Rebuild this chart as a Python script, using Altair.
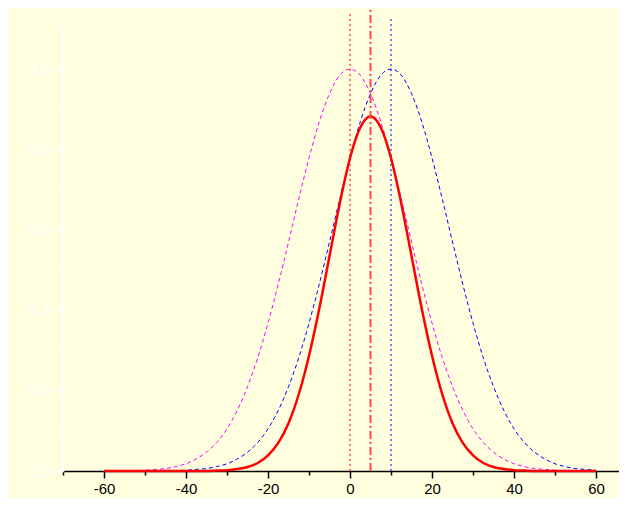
import altair as alt
import pandas as pd

# x positions (step 2.5)
x_vals = [i * 2.5 for i in range(-24, 25)]

# magenta dashed curve (centered at 0)
magenta = [0.000, 0.000, 0.001, 0.001, 0.002, 0.004, 0.006, 0.011, 0.018, 0.030,
           0.047, 0.071, 0.105, 0.151, 0.210, 0.282, 0.368, 0.465, 0.570, 0.677,
           0.779, 0.869, 0.939, 0.985, 1.000, 0.985, 0.939, 0.869, 0.779, 0.677,
           0.570, 0.465, 0.368, 0.282, 0.210, 0.151, 0.105, 0.071, 0.047, 0.030,
           0.018, 0.011, 0.006, 0.004, 0.002, 0.001, 0.001, 0.000, 0.000]

# blue dashed curve (centered at 10)
blue = [0.000, 0.000, 0.000, 0.000, 0.000, 0.000, 0.001, 0.001, 0.002, 0.004,
        0.006, 0.011, 0.018, 0.030, 0.047, 0.071, 0.105, 0.151, 0.210, 0.282,
        0.368, 0.465, 0.570, 0.677, 0.779, 0.869, 0.939, 0.985, 1.000, 0.985,
        0.939, 0.869, 0.779, 0.677, 0.570, 0.465, 0.368, 0.282, 0.210, 0.151,
        0.105, 0.071, 0.047, 0.030, 0.018, 0.011, 0.006, 0.004, 0.002]

# red solid curve (centered at 5)
red = [0.000, 0.000, 0.000, 0.000, 0.000, 0.000, 0.000, 0.000, 0.000, 0.000,
       0.000, 0.001, 0.002, 0.005, 0.010, 0.020, 0.039, 0.070, 0.119, 0.191,
       0.287, 0.404, 0.535, 0.666, 0.779, 0.855, 0.883, 0.855, 0.779, 0.666,
       0.535, 0.404, 0.287, 0.191, 0.119, 0.070, 0.039, 0.020, 0.010, 0.005,
       0.002, 0.001, 0.000, 0.000, 0.000, 0.000, 0.000, 0.000, 0.000]

# vertical reference lines
vline_x = [0, 5, 10]
vline_top = [1.14, 1.16, 1.13]

x_ticks = [-70, -60, -50, -40, -30, -20, -10, 0, 10, 20, 30, 40, 50, 60]
y_ticks = [0.0, 0.1, 0.2, 0.3, 0.4, 0.5, 0.6, 0.7, 0.8, 0.9, 1.0, 1.1]

df = pd.DataFrame({"x": x_vals, "magenta": magenta, "blue": blue, "red": red})
vdf = pd.DataFrame({"x": vline_x, "y0": [0, 0, 0], "top": vline_top})

FONT = "Arial"

xscale = alt.Scale(domain=[-70, 65.6], nice=False, zero=False)
yscale = alt.Scale(domain=[0, 1.1], nice=False)

xaxis = alt.Axis(
    values=x_ticks, title=None, grid=False,
    domainColor="black", domainWidth=1.5, tickColor="black", tickWidth=1.5,
    tickSize={"condition": {"test": "datum.value % 20 === 0", "value": 7}, "value": 4},
    labelExpr="datum.value % 20 === 0 ? toString(datum.value) : ''",
    labelColor="black", labelFont=FONT, labelFontSize=15, labelPadding=3,
    labelFlush=False, labelOverlap=False,
)
yaxis = alt.Axis(
    values=y_ticks, title=None, grid=False,
    domainColor="white", domainWidth=2, tickColor="white", tickWidth=2,
    tickSize={"condition": {"test": "round(datum.value*10) % 2 === 0", "value": 7}, "value": 4},
    labelExpr="round(datum.value*10) % 2 === 0 ? replace(format(datum.value, '.1f'), '.', ',') : ''",
    labelColor="white", labelFont=FONT, labelFontSize=15, labelPadding=6,
    labelFlush=False, labelOverlap=False,
)

base = alt.Chart(df)

mag_line = base.mark_line(color="#ff00ff", strokeWidth=1, strokeDash=[4, 3], interpolate="monotone").encode(
    x=alt.X("x:Q", scale=xscale, axis=xaxis),
    y=alt.Y("magenta:Q", scale=yscale, axis=yaxis),
)
blue_line = base.mark_line(color="#0000ff", strokeWidth=1, strokeDash=[4, 3], interpolate="monotone").encode(
    x=alt.X("x:Q", scale=xscale),
    y=alt.Y("blue:Q", scale=yscale),
)
red_line = base.mark_line(color="#ff0000", strokeWidth=2.5, interpolate="monotone").encode(
    x=alt.X("x:Q", scale=xscale),
    y=alt.Y("red:Q", scale=yscale),
)

vbase = alt.Chart(vdf)
v_red_dot = vbase.transform_filter("datum.x === 0").mark_rule(
    color="#ff0000", strokeWidth=1, strokeDash=[2, 3], clip=False).encode(
    x=alt.X("x:Q", scale=xscale), y=alt.Y("y0:Q", scale=yscale), y2="top:Q")
v_red_dashdot = vbase.transform_filter("datum.x === 5").mark_rule(
    color="#ff4a4a", strokeWidth=2, strokeDash=[8, 3, 2, 3], clip=False).encode(
    x=alt.X("x:Q", scale=xscale), y=alt.Y("y0:Q", scale=yscale), y2="top:Q")
v_blue_dot = vbase.transform_filter("datum.x === 10").mark_rule(
    color="#0000ff", strokeWidth=1, strokeDash=[2, 3], clip=False).encode(
    x=alt.X("x:Q", scale=xscale), y=alt.Y("y0:Q", scale=yscale), y2="top:Q")

chart = alt.layer(
    mag_line, blue_line, v_red_dot, v_blue_dot, red_line, v_red_dashdot
).properties(
    width=556, height=442,
    autosize=alt.AutoSizeParams(type="none"),
    padding={"left": 55, "top": 21, "right": 0, "bottom": 27},
    background="#ffffe0",
).configure_view(stroke=None)

chart.save("out.html", embed_options={"renderer": "svg", "actions": False})
